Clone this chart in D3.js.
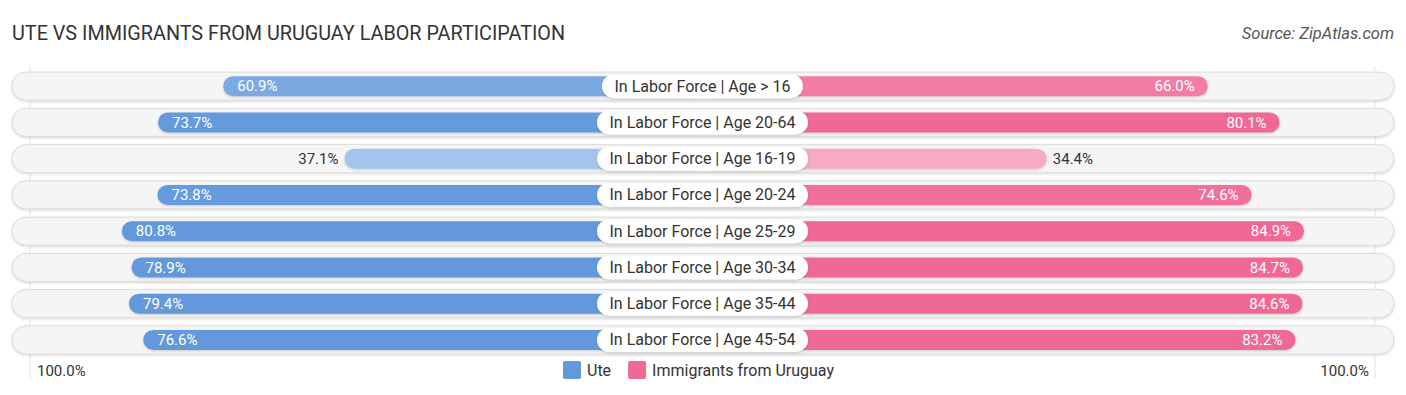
<!DOCTYPE html>
<html>
<head>
<meta charset="utf-8"/>
<script src="https://d3js.org/d3.v7.min.js"></script>
<style>
  body { margin:0; background:#fff; }
  text { font-family: Roboto, "Open Sans", sans-serif; }
</style>
</head>
<body>
<svg id="chart" width="1406" height="395"></svg>
<script>
// data
let categories = ["In Labor Force | Age > 16", "In Labor Force | Age 20-64", "In Labor Force | Age 16-19",
    "In Labor Force | Age 20-24", "In Labor Force | Age 25-29", "In Labor Force | Age 30-34",
    "In Labor Force | Age 35-44", "In Labor Force | Age 45-54"];
let uteValues = [60.9, 73.7, 37.1, 73.8, 80.8, 78.9, 79.4, 76.6];
let uruguayValues = [66.0, 80.1, 34.4, 74.6, 84.9, 84.7, 84.6, 83.2];
let seriesNames = ["Ute", "Immigrants from Uruguay"];
let axisLabels = ["100.0%", "100.0%"];

let svg = d3.select("#chart");
let cx = 702.5;     // middle of the chart
let gap = 169;      // zero of each side sits this far from the middle
let span = 509.5;   // pixels for 100%

// left side: value -> x, right side: value -> x
let xLeft = d3.scaleLinear().domain([0, 100]).range([cx - gap, cx - gap - span]);
let xRight = d3.scaleLinear().domain([0, 100]).range([cx + gap, cx + gap + span]);
let y = d3.scaleBand().domain(categories).range([68, 358]).paddingInner(0.2).paddingOuter(0.1);

// colour fades for small values
let blueCol = d3.scaleLinear().domain([30, 75]).range(["#b0cdee", "#6399db"]).clamp(true);
let pinkCol = d3.scaleLinear().domain([30, 80]).range(["#f8b0c8", "#f06894"]).clamp(true);

let defs = svg.append("defs");
let sh = defs.append("filter").attr("id", "sh").attr("x", "-5%").attr("y", "-30%").attr("width", "110%").attr("height", "160%");
sh.append("feDropShadow").attr("dx", 0).attr("dy", 1).attr("stdDeviation", 1.2).attr("flood-color", "#000").attr("flood-opacity", 0.18);

// title + source
svg.append("text").text("UTE VS IMMIGRANTS FROM URUGUAY LABOR PARTICIPATION")
    .attr("x", 12).attr("y", 40).style("font-size", "19.8px").style("fill", "#333");
svg.append("text").text("Source: ZipAtlas.com")
    .attr("x", 1394).attr("y", 39).attr("text-anchor", "end")
    .style("font-size", "16.5px").style("font-style", "italic").style("fill", "#555");

// faint vertical guide lines
[xLeft(100) + 6, xRight(100) - 6].forEach(function(lx) {
    svg.append("line").attr("x1", lx).attr("x2", lx).attr("y1", 66).attr("y2", 378)
        .style("stroke", "#e4e4e4").style("stroke-width", 1);
});

let trackH = 28, barH = 20;

categories.forEach(function(cat, i) {
    let yc = y(cat) + y.bandwidth() / 2;
    let g = svg.append("g");

    // background track
    g.append("rect")
        .attr("x", 12).attr("y", yc - trackH / 2)
        .attr("width", 1394 - 12).attr("height", trackH)
        .attr("rx", trackH / 2)
        .style("fill", "#f5f5f5").style("stroke", "#dcdcdc").style("stroke-width", 1)
        .attr("filter", "url(#sh)");

    // ute bar (left)
    let u = uteValues[i];
    g.append("rect")
        .attr("x", xLeft(u)).attr("y", yc - barH / 2)
        .attr("width", cx - xLeft(u)).attr("height", barH)
        .attr("rx", barH / 2)
        .style("fill", blueCol(u)).attr("filter", "url(#sh)");

    // uruguay bar (right)
    let r = uruguayValues[i];
    g.append("rect")
        .attr("x", cx).attr("y", yc - barH / 2)
        .attr("width", xRight(r) - cx).attr("height", barH)
        .attr("rx", barH / 2)
        .style("fill", pinkCol(r)).attr("filter", "url(#sh)");

    // value labels
    let uIn = u > 50;
    g.append("text").text(u.toFixed(1) + "%")
        .attr("x", uIn ? xLeft(u) + 14 : xLeft(u) - 6)
        .attr("y", yc).attr("dy", "0.35em")
        .attr("text-anchor", uIn ? "start" : "end")
        .style("font-size", "15px").style("fill", uIn ? "#fff" : "#333");
    let rIn = r > 50;
    g.append("text").text(r.toFixed(1) + "%")
        .attr("x", rIn ? xRight(r) - 13 : xRight(r) + 6)
        .attr("y", yc).attr("dy", "0.35em")
        .attr("text-anchor", rIn ? "end" : "start")
        .style("font-size", "15px").style("fill", rIn ? "#fff" : "#333");

    // category pill in the middle
    let pill = g.append("rect").attr("y", yc - 12).attr("height", 24).attr("rx", 12)
        .style("fill", "#fff").attr("filter", "url(#sh)");
    let t = g.append("text").text(cat)
        .attr("x", cx).attr("y", yc).attr("dy", "0.35em").attr("text-anchor", "middle")
        .style("font-size", "16px").style("fill", "#333");
    let w = t.node().getComputedTextLength() + 25;
    pill.attr("x", cx - w / 2).attr("width", w);
});

// axis labels
svg.append("text").text(axisLabels[0]).attr("x", 37).attr("y", 371).attr("dy", "0.35em")
    .style("font-size", "15px").style("fill", "#333");
svg.append("text").text(axisLabels[1]).attr("x", 1369).attr("y", 371).attr("dy", "0.35em")
    .attr("text-anchor", "end").style("font-size", "15px").style("fill", "#333");

// legend
let legendColors = ["#6399db", "#f06894"];
let lx = 563;
seriesNames.forEach(function(name, i) {
    svg.append("rect").attr("x", lx).attr("y", 361).attr("width", 18).attr("height", 18)
        .attr("rx", 2).style("fill", legendColors[i]);
    let lt = svg.append("text").text(name).attr("x", lx + 24).attr("y", 370).attr("dy", "0.35em")
        .style("font-size", "16px").style("fill", "#333");
    lx = lx + 24 + lt.node().getComputedTextLength() + 17;
});
</script>
</body>
</html>
